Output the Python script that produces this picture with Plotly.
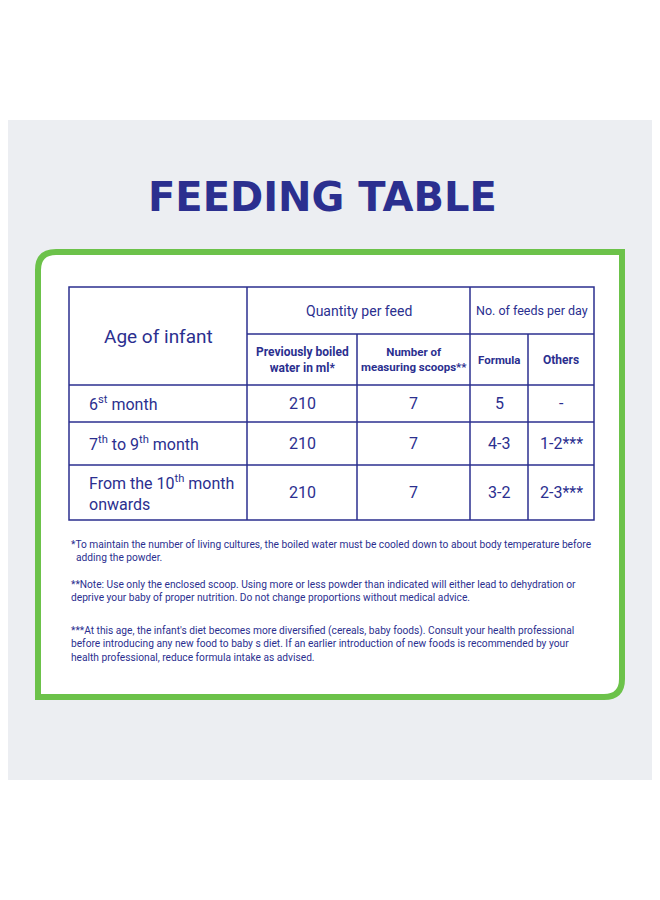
import plotly.graph_objects as go

# ---- data ----
title = "FEEDING TABLE"
ages = ["6<sup>st</sup> month", "7<sup>th</sup> to 9<sup>th</sup> month",
        "From the 10<sup>th</sup> month<br>onwards"]
water_ml = [210, 210, 210]
scoops = [7, 7, 7]
feeds_formula = ["5", "4-3", "3-2"]
feeds_others = ["-", "1-2***", "2-3***"]
footnotes = [
    "*To maintain the number of living cultures, the boiled water must be cooled down to about body temperature before<br>  adding the powder.",
    "**Note: Use only the enclosed scoop. Using more or less powder than indicated will either lead to dehydration or<br>deprive your baby of proper nutrition. Do not change proportions without medical advice.",
    "***At this age, the infant's diet becomes more diversified (cereals, baby foods). Consult your health professional<br>before introducing any new food to baby s diet. If an earlier introduction of new foods is recommended by your<br>health professional, reduce formula intake as advised.",
]

BLUE = "#2b2f8f"
GREEN = "#6cc24a"
FONT = "Roboto, sans-serif"

cols = [69, 247, 357, 470, 528, 594]
rows = [287, 334, 385, 422, 465, 520]

fig = go.Figure()
shapes = []
ann = []

shapes.append(dict(type="rect", x0=0, x1=660, y0=120, y1=780, fillcolor="#eceef2", line_width=0, layer="below"))
shapes.append(dict(type="path", layer="below",
                   path="M 56 252 L 622 252 L 622 679 Q 622 697 604 697 L 38 697 L 38 270 Q 38 252 56 252 Z",
                   fillcolor="white", line=dict(color=GREEN, width=6)))

def line(x0, y0, x1, y1):
    shapes.append(dict(type="line", x0=x0, y0=y0, x1=x1, y1=y1, line=dict(color=BLUE, width=1.5)))

shapes.append(dict(type="rect", x0=cols[0], x1=cols[-1], y0=rows[0], y1=rows[-1], line=dict(color=BLUE, width=1.5)))
line(cols[1], rows[0], cols[1], rows[-1])
line(cols[3], rows[0], cols[3], rows[-1])
line(cols[2], rows[1], cols[2], rows[-1])
line(cols[4], rows[1], cols[4], rows[-1])
line(cols[1], rows[1], cols[-1], rows[1])
for r in rows[2:-1]:
    line(cols[0], r, cols[-1], r)

def txt(x, y, s, size=15, xanchor="center", align="center", color=BLUE):
    ann.append(dict(x=x, y=y, text=s, showarrow=False, xanchor=xanchor, yanchor="middle",
                    align=align, font=dict(family=FONT, size=size, color=color)))

ann.append(dict(x=322, y=197, text="<b>" + title + "</b>", showarrow=False,
                font=dict(family="DejaVu Sans, sans-serif", size=40, color=BLUE)))

cx = [(cols[i] + cols[i + 1]) / 2 for i in range(5)]
ry = [(rows[i] + rows[i + 1]) / 2 for i in range(5)]
txt(cx[0], (rows[0] + rows[2]) / 2, "Age of infant", 19)
txt((cols[1] + cols[3]) / 2, ry[0], "Quantity per feed", 14)
txt((cols[3] + cols[5]) / 2, ry[0], "No. of feeds per day", 12.5)
txt(cx[1], ry[1], "<b>Previously boiled<br>water in ml*</b>", 12)
txt(cx[2], ry[1], "<b>Number of<br>measuring scoops**</b>", 11.5)
txt(cx[3], ry[1], "<b>Formula</b>", 11.5)
txt(cx[4], ry[1], "<b>Others</b>", 12)

for i in range(3):
    y = ry[i + 2]
    txt(cols[0] + 18, y, ages[i], 16, xanchor="left", align="left")
    txt(cx[1], y, str(water_ml[i]), 16)
    txt(cx[2], y, str(scoops[i]), 16)
    txt(cx[3], y, feeds_formula[i], 16)
    txt(cx[4], y, feeds_others[i], 16)

fy = [551, 591, 644]
for y, s in zip(fy, footnotes):
    txt(69, y, s, 10.2, xanchor="left", align="left")

# page body has an 8px margin: shift the ranges so screen pixels match
fig.update_layout(width=652, height=892, margin=dict(l=0, r=0, t=0, b=0),
                  paper_bgcolor="white", plot_bgcolor="white",
                  shapes=shapes, annotations=ann, showlegend=False,
                  xaxis=dict(range=[8, 660], visible=False, fixedrange=True),
                  yaxis=dict(range=[900, 8], visible=False, fixedrange=True))
fig.write_html("out.html")
